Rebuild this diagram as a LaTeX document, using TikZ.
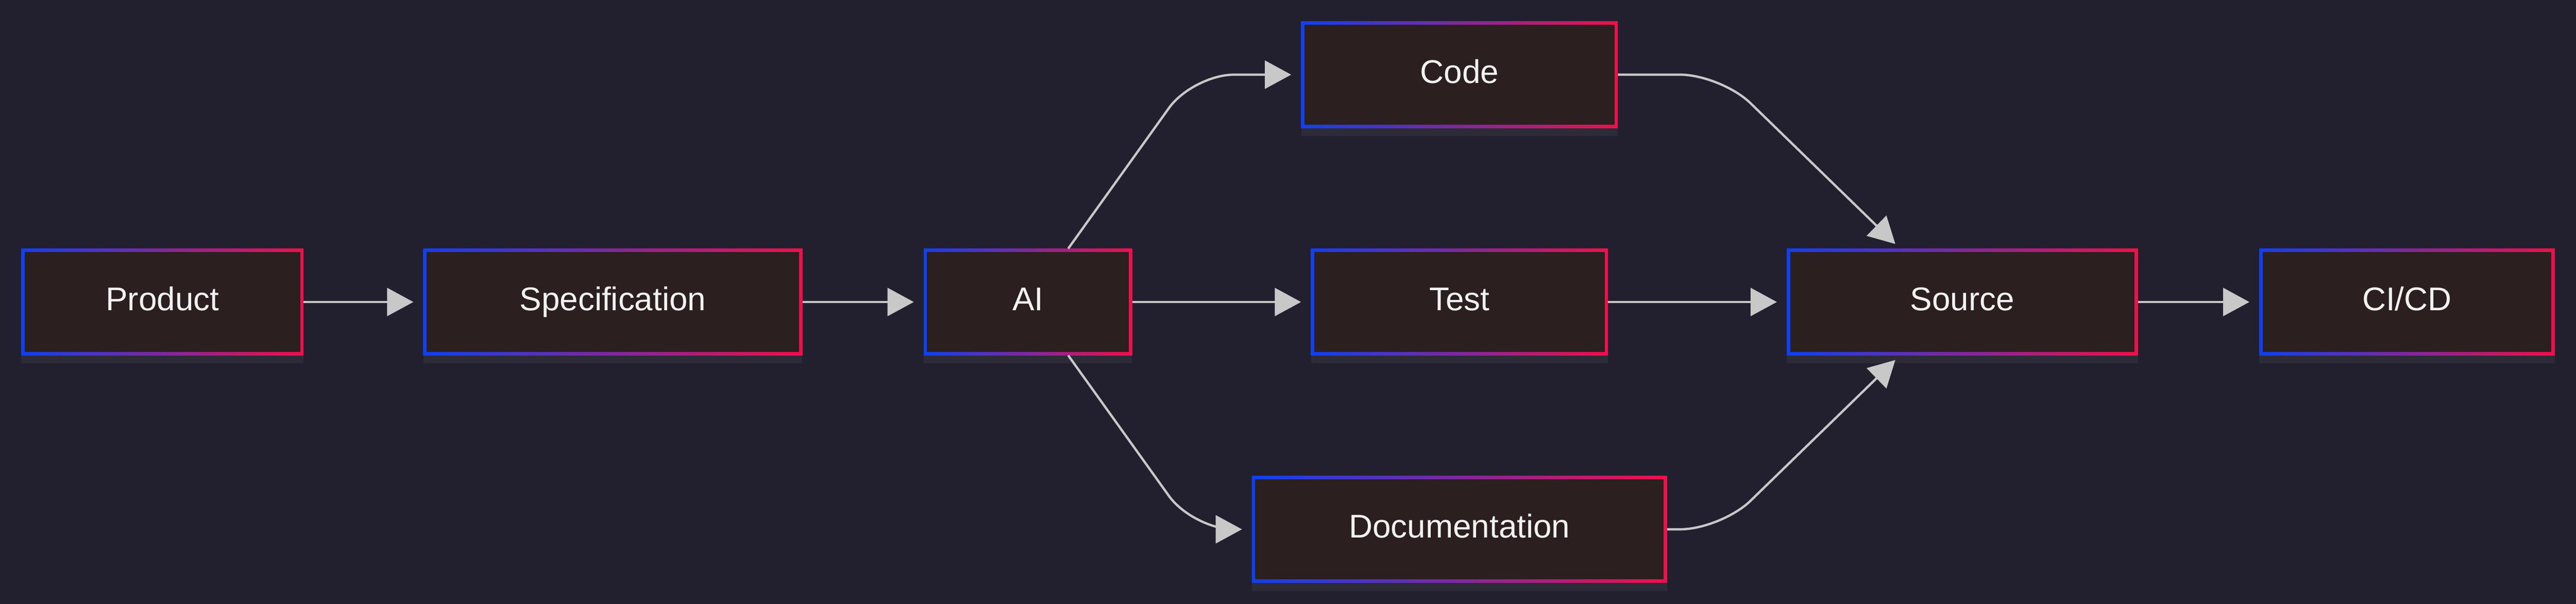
\documentclass[tikz,border=0pt]{standalone}
\usepackage{fontspec}
\setmainfont{Liberation Sans}
\usetikzlibrary{arrows.meta,calc,shadows}
\definecolor{bgcol}{HTML}{22202F}
\definecolor{boxfill}{HTML}{2B1F20}
\definecolor{edgecol}{HTML}{C8C8C8}
\definecolor{leftblue}{HTML}{1040F0}
\definecolor{rightred}{HTML}{F0104A}
\begin{document}
\begin{tikzpicture}[x=0.1cm, y=-0.1cm,
    box/.style={rectangle, minimum height=6.5cm, inner sep=0pt,
        text height=1.35cm, text depth=0.3cm,
        left color=leftblue, right color=rightred, text=white!90!gray,
        font=\fontsize{57}{68}\selectfont,
        drop shadow={opacity=0.12, shadow xshift=0cm, shadow yshift=-0.5cm},
        path picture={\fill[boxfill] ([shift={(0.2cm,0.2cm)}]path picture bounding box.south west)
            rectangle ([shift={(-0.2cm,-0.2cm)}]path picture bounding box.north east);}},
    flow/.style={draw=edgecol, line width=0.14cm, rounded corners=2.5cm,
        -{Triangle[length=1.6cm, width=1.7cm]}, shorten >=0.6cm}]
    % Background
    \fill[bgcol] (-1,-1) rectangle (1569,367);
    \useasboundingbox (0,0) rectangle (1568,366);

    % Nodes
    \node[box, minimum width=17.2cm] (product) at (98,183) {Product};
    \node[box, minimum width=23.1cm] (spec) at (372.5,183) {Specification};
    \node[box, minimum width=12.7cm] (ai) at (625.5,183) {AI};
    \node[box, minimum width=19.3cm] (code) at (888.5,44.5) {Code};
    \node[box, minimum width=18.1cm] (test) at (888.5,183) {Test};
    \node[box, minimum width=25.3cm] (doc) at (888.5,321.5) {Documentation};
    \node[box, minimum width=21.4cm] (source) at (1195,183) {Source};
    \node[box, minimum width=18cm] (cicd) at (1466,183) {CI/CD};

    % Edges
    \draw[flow] (product) -- (spec);
    \draw[flow] (spec) -- (ai);
    \draw[flow] (ai) -- (test);
    \draw[flow] (test) -- (source);
    \draw[flow] (source) -- (cicd);
    \draw[flow] ($(ai.north east)+(-39,0)$) -- (726,44.5) -- (code.west);
    \draw[flow] ($(ai.south east)+(-39,0)$) -- (726,321.5) -- (doc.west);
    \draw[flow, shorten >=0.4cm] (code.east) -- (1048,44.5) -- ($(source.north)+(-38,0)$);
    \draw[flow, shorten >=0.4cm] (doc.east) -- (1048,321.5) -- ($(source.south)+(-38,0)$);
\end{tikzpicture}
\end{document}
